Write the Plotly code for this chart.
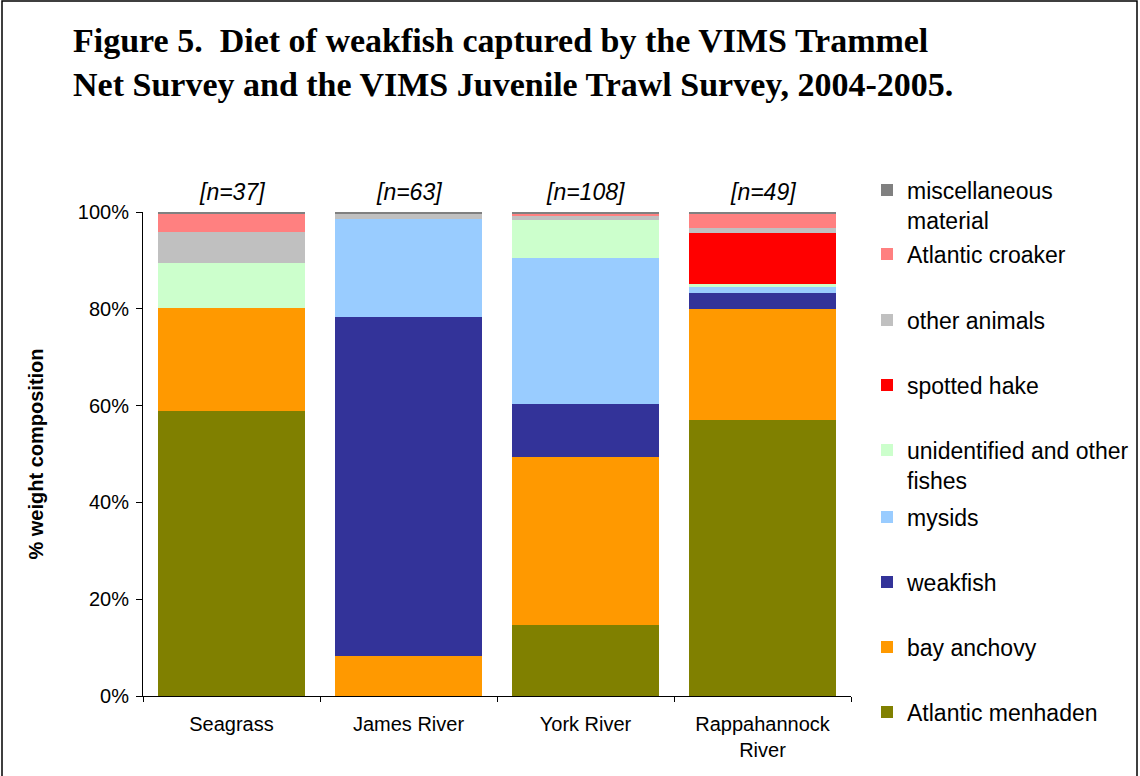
import plotly.graph_objects as go

# ---------------- data ----------------
categories = ["Seagrass", "James River", "York River", "Rappahannock<br>River"]
sample_sizes = ["[n=37]", "[n=63]", "[n=108]", "[n=49]"]

# series, bottom of stack -> top of stack (fractions of total weight)
atlantic_menhaden = [0.589, 0.000, 0.147, 0.570]
bay_anchovy       = [0.213, 0.083, 0.347, 0.230]
weakfish          = [0.000, 0.700, 0.109, 0.033]
mysids            = [0.000, 0.202, 0.302, 0.012]
unidentified_fish = [0.093, 0.000, 0.078, 0.006]
spotted_hake      = [0.000, 0.000, 0.000, 0.106]
other_animals     = [0.064, 0.012, 0.010, 0.010]
atlantic_croaker  = [0.037, 0.000, 0.004, 0.029]
misc_material     = [0.004, 0.003, 0.003, 0.004]

series_names = ["Atlantic menhaden", "bay anchovy", "weakfish", "mysids",
                "unidentified and other<br>fishes", "spotted hake", "other animals",
                "Atlantic croaker", "miscellaneous<br>material"]
series_values = [atlantic_menhaden, bay_anchovy, weakfish, mysids, unidentified_fish,
                 spotted_hake, other_animals, atlantic_croaker, misc_material]
series_colors = ["#808000", "#FF9900", "#333399", "#99CCFF", "#CCFFCC",
                 "#FF0000", "#C0C0C0", "#FF8080", "#808080"]

y_ticks = [0, 0.2, 0.4, 0.6, 0.8, 1.0]
y_tick_labels = ["0%", "20%", "40%", "60%", "80%", "100%"]

# ---------------- layout constants ----------------
W, H = 1140, 776
PL, PR, PT, PB = 143, 851, 212, 696   # plot area in pixels
SANS = "Liberation Sans, Arial, sans-serif"
SERIF = "Liberation Serif, Times New Roman, serif"


def px_x(p):
    return (p - PL) / (PR - PL)


def px_y(p):
    return (PB - p) / (PB - PT)


# legend first-line text centres (pixels), for series bottom -> top
legend_text_y = [712, 647, 582, 517, 450, 385, 320, 254, 190]
legend_text_x = 907

fig = go.Figure()
legend_layouts = {}
for i, (name, vals, col) in enumerate(zip(series_names, series_values, series_colors)):
    key = "legend" if i == 0 else f"legend{i + 1}"
    fig.add_trace(go.Bar(
        x=categories, y=vals, name=name,
        marker=dict(color=col, line=dict(width=0)),
        legend=key,
        hovertemplate="%{x}<br>" + name + ": %{y:.1%}<extra></extra>",
    ))
    legend_layouts[key] = dict(
        x=px_x(legend_text_x - 40), xanchor="left",
        y=px_y(legend_text_y[i] - 21.5), yanchor="top",
        xref="paper", yref="paper",
        bgcolor="rgba(0,0,0,0)", borderwidth=0,
        font=dict(family=SANS, size=23, color="#000000"),
        valign="top", itemclick=False, itemdoubleclick=False,
    )

annotations = []
for c, n in zip(categories, sample_sizes):
    annotations.append(dict(
        x=c, y=1.0, xref="x", yref="y", text=f"<i>{n}</i>",
        showarrow=False, yanchor="middle", yshift=20,
        font=dict(family=SANS, size=23, color="#000000"),
    ))

fig.update_layout(
    width=W, height=H,
    margin=dict(l=PL, r=W - PR, t=PT, b=H - PB, pad=0, autoexpand=False),
    paper_bgcolor="white", plot_bgcolor="white",
    barmode="stack", bargap=0.164,
    showlegend=True,
    title=dict(
        text="Figure 5.  Diet of weakfish captured by the VIMS Trammel<br>"
             "Net Survey and the VIMS Juvenile Trawl Survey, 2004-2005.",
        x=73 / W, xanchor="left", xref="container",
        y=1 - 52 / H, yanchor="top", yref="container",
        pad=dict(t=0, b=0, l=0, r=0),
        font=dict(family=SERIF, size=34, color="#000000", weight="bold"),
    ),
    xaxis=dict(
        showline=True, linecolor="#000000", linewidth=1,
        ticks="outside", tickson="boundaries", ticklen=5, tickcolor="#000000",
        tickfont=dict(family=SANS, size=20, color="#000000"),
        ticklabelstandoff=10,
        showgrid=False, zeroline=False, fixedrange=True,
    ),
    yaxis=dict(
        range=[0, 1], tickvals=y_ticks, ticktext=y_tick_labels,
        showline=True, linecolor="#000000", linewidth=1,
        ticks="outside", ticklen=6, tickcolor="#000000",
        tickfont=dict(family=SANS, size=20, color="#000000"),
        ticklabelstandoff=3,
        showgrid=False, zeroline=False, fixedrange=True,
        title=dict(text="<b>% weight composition</b>", standoff=28,
                   font=dict(family=SANS, size=20, color="#000000")),
    ),
    annotations=annotations,
    shapes=[dict(
        type="rect", xref="paper", yref="paper", layer="above",
        x0=px_x(2), x1=px_x(1137), y0=px_y(790), y1=px_y(1),
        line=dict(color="#000000", width=1.5), fillcolor="rgba(0,0,0,0)",
    )],
    **legend_layouts,
)

fig.write_html("out.html",
               config={"displayModeBar": False},
               post_script="document.body.style.margin='0';document.body.style.overflow='hidden';")
